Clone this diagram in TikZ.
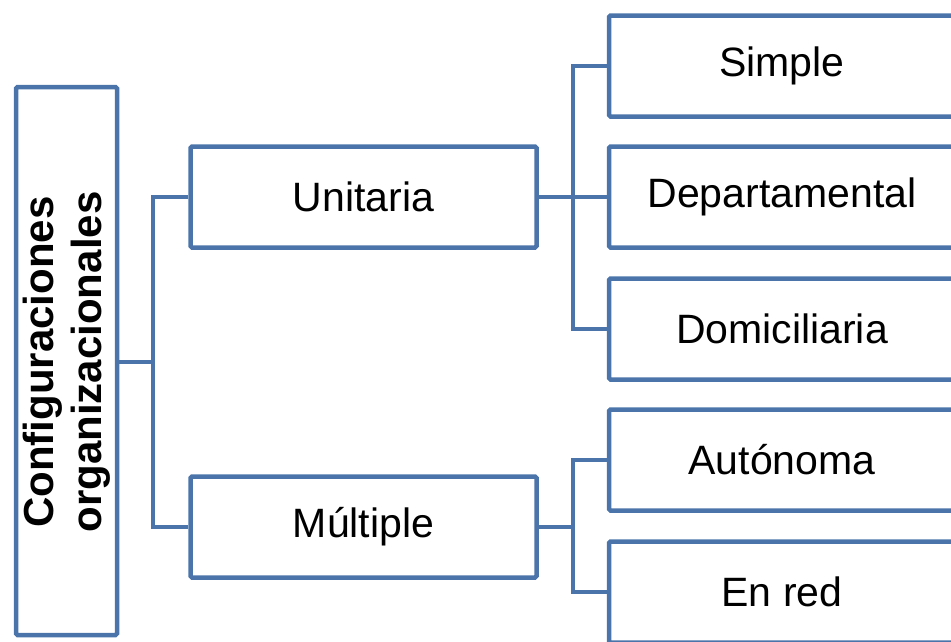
\documentclass[tikz,border=0pt]{standalone}
\usepackage{fontspec}
\setmainfont{Liberation Sans}
\definecolor{boxblue}{HTML}{4A74AA}
\begin{document}
\begin{tikzpicture}[x=1pt,y=-1pt,
  box/.style={draw=boxblue, line width=4.5pt, rounded corners=1.5pt, fill=white,
    minimum width=346pt, minimum height=101pt, inner sep=0pt,
    font=\fontsize{41}{49}\selectfont, text=black},
  conn/.style={draw=boxblue, line width=4.5pt}]
\useasboundingbox (0,0) rectangle (951,641);
\begin{scope}
\clip (0,0) rectangle (951,641);
\node[draw=boxblue, line width=4.5pt, rounded corners=1.5pt, minimum width=101pt, minimum height=548pt, inner sep=0pt] (root) at (66.5,361) {};
\node[rotate=90, align=center, font=\fontsize{42}{48}\bfseries\selectfont] (roottext) at (66.5,362) {Configuraciones\\organizacionales};
\node[box] (uni) at (363.5,197) {Unitaria};
\node[box] (mul) at (363.5,527) {Múltiple};
\node[box] (sim) at (782,66) {Simple};
\node[box] (dep) at (782,197) {Departamental};
\node[box] (dom) at (782,329) {Domiciliaria};
\node[box] (aut) at (782,460) {Autónoma};
\node[box] (red) at (782,592) {En red};
\coordinate (j1) at (153,362);
\coordinate (j2) at (573,197);
\coordinate (j3) at (573,527);
\draw[conn] (root.east |- j1) -- (j1);
\draw[conn] (uni.west) -| (j1) |- (mul.west);
\draw[conn] (uni.east) -- (dep.west);
\draw[conn] (sim.west) -| (j2) |- (dom.west);
\draw[conn] (mul.east) -- (j3);
\draw[conn] (aut.west) -| (j3) |- (red.west);
\end{scope}
\end{tikzpicture}
\end{document}
